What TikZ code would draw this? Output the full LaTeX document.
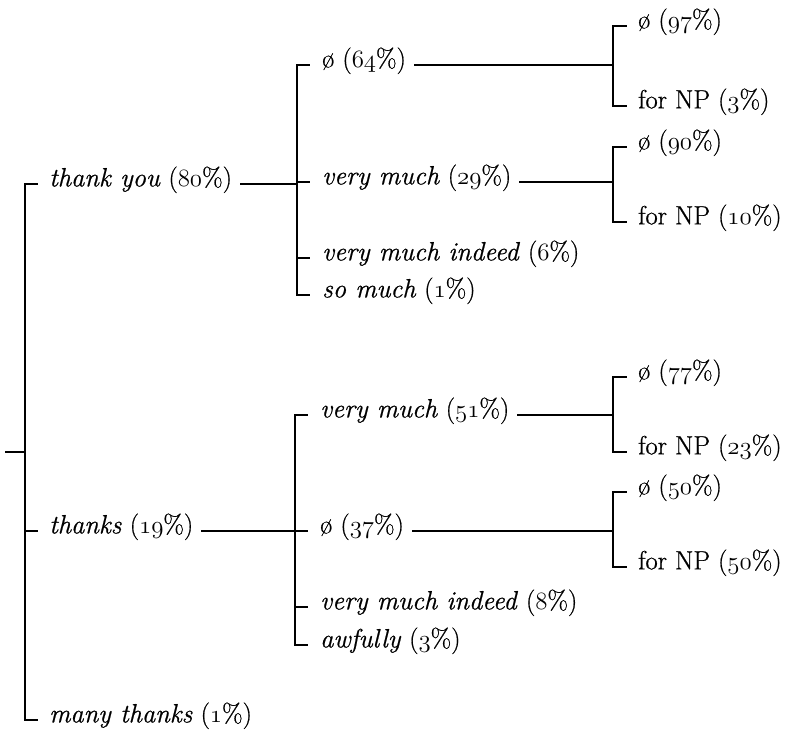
\documentclass[tikz,border=0pt]{standalone}
\usepackage{fontspec}
\setmainfont{Latin Modern Roman}[FakeBold=0.7]
% old-style figures taken from the math italic font
\newcommand\osn[1]{\ensuremath{\mathnormal{#1}}}
\tikzset{
  lbl/.style={anchor=west, inner sep=0pt, text height=0.72em, text depth=0.24em,
              font=\fontsize{26.5}{31}\selectfont},
  bar/.style={line width=2.7pt, line join=miter, line cap=rect},
}
\begin{document}
\begin{tikzpicture}[x=1pt, y=-1pt]
\useasboundingbox (0,0) rectangle (797,735);

% bracket positions
\coordinate (rx)  at (25,0);
\coordinate (ax)  at (297,0);
\coordinate (bx)  at (295,0);
\coordinate (cx)  at (613,0);
\coordinate (stub) at (6,452);

% first level
\node[lbl] (ty) at (49,184) {\textit{thank you} (\osn{80}\%)};
\node[lbl] (th) at (49,531) {\textit{thanks} (\osn{19}\%)};
\node[lbl] (mt) at (49,720) {\textit{many thanks} (\osn{1}\%)};

% second level, under "thank you"
\node[lbl] (a1) at (322,65)  {ø (\osn{64}\%)};
\node[lbl] (a2) at (322,182) {\textit{very much} (\osn{29}\%)};
\node[lbl] (a3) at (322,258) {\textit{very much indeed} (\osn{6}\%)};
\node[lbl] (a4) at (322,295) {\textit{so much} (\osn{1}\%)};

% second level, under "thanks"
\node[lbl] (b1) at (320,415) {\textit{very much} (\osn{51}\%)};
\node[lbl] (b2) at (320,531) {ø (\osn{37}\%)};
\node[lbl] (b3) at (320,607) {\textit{very much indeed} (\osn{8}\%)};
\node[lbl] (b4) at (320,645) {\textit{awfully} (\osn{3}\%)};

% third level
\node[lbl] (c1) at (638,26)  {ø (\osn{97}\%)};
\node[lbl] (c2) at (638,106) {for NP (\osn{3}\%)};
\node[lbl] (c3) at (638,147) {ø (\osn{90}\%)};
\node[lbl] (c4) at (638,222) {for NP (\osn{10}\%)};
\node[lbl] (c5) at (638,377) {ø (\osn{77}\%)};
\node[lbl] (c6) at (638,452) {for NP (\osn{23}\%)};
\node[lbl] (c7) at (638,492) {ø (\osn{50}\%)};
\node[lbl] (c8) at (638,567) {for NP (\osn{50}\%)};

% root bracket
\draw[bar] (stub) -- (stub -| rx);
\draw[bar] ([xshift=-12pt]ty.west) -- (ty.west -| rx) -- (mt.west -| rx) -- ([xshift=-12pt]mt.west);
\draw[bar] (th.west -| rx) -- ([xshift=-12pt]th.west);

% brackets of the second level
\draw[bar] ([xshift=-13pt]a1.west) -- (a1.west -| ax) -- (a4.west -| ax) -- ([xshift=-13pt]a4.west);
\draw[bar] (a2.west -| ax) -- ([xshift=-13pt]a2.west);
\draw[bar] (a3.west -| ax) -- ([xshift=-13pt]a3.west);
\draw[bar] ([xshift=-13pt]b1.west) -- (b1.west -| bx) -- (b4.west -| bx) -- ([xshift=-13pt]b4.west);
\draw[bar] (b2.west -| bx) -- ([xshift=-13pt]b2.west);
\draw[bar] (b3.west -| bx) -- ([xshift=-13pt]b3.west);

% links from the first level
\draw[bar] ([xshift=9pt]ty.east) -- (ty.east -| ax);
\draw[bar] ([xshift=9pt]th.east) -- (th.east -| bx);

% brackets of the third level
\draw[bar] ([xshift=-12pt]c1.west) -- (c1.west -| cx) -- (c2.west -| cx) -- ([xshift=-12pt]c2.west);
\draw[bar] ([xshift=-12pt]c3.west) -- (c3.west -| cx) -- (c4.west -| cx) -- ([xshift=-12pt]c4.west);
\draw[bar] ([xshift=-12pt]c5.west) -- (c5.west -| cx) -- (c6.west -| cx) -- ([xshift=-12pt]c6.west);
\draw[bar] ([xshift=-12pt]c7.west) -- (c7.west -| cx) -- (c8.west -| cx) -- ([xshift=-12pt]c8.west);

% links from the second level
\draw[bar] ([xshift=9pt]a1.east) -- (a1.east -| cx);
\draw[bar] ([xshift=9pt]a2.east) -- (a2.east -| cx);
\draw[bar] ([xshift=9pt]b1.east) -- (b1.east -| cx);
\draw[bar] ([xshift=9pt]b2.east) -- (b2.east -| cx);
\end{tikzpicture}
\end{document}
